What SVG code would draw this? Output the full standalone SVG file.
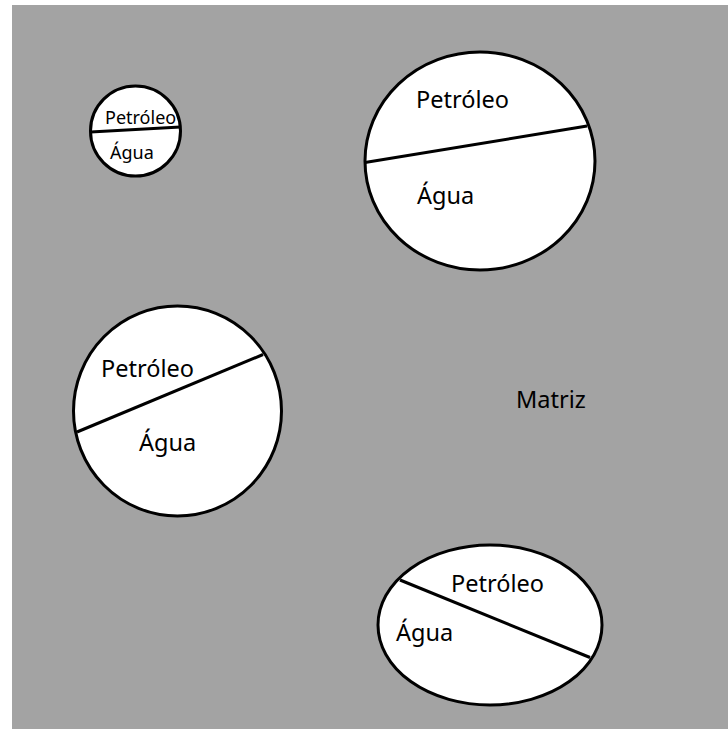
<svg xmlns="http://www.w3.org/2000/svg" width="728" height="729" viewBox="0 0 728 729">
  <style>
    .drop { fill: #ffffff; stroke: #000000; stroke-width: 3; }
    .iface { stroke: #000000; stroke-width: 3; fill: none; }
    .lbl { font-family: "Noto Sans", "Open Sans", sans-serif; font-size: 23.5px; fill: #000000; }
    .lbl-s { font-family: "Noto Sans", "Open Sans", sans-serif; font-size: 18px; fill: #000000; }
  </style>
  <rect width="728" height="729" fill="#ffffff"/>
  <!-- matrix background -->
  <rect id="matriz" x="12" y="5" width="716" height="724" fill="#a3a3a3"/>
  <text class="lbl" x="516" y="408">Matriz</text>

  <g id="gota-pequena">
    <circle class="drop" cx="135.5" cy="131" r="45"/>
    <line class="iface" x1="90.5" y1="132" x2="180.5" y2="127"/>
    <text class="lbl-s" x="105" y="123.5">Petróleo</text>
    <text class="lbl-s" x="110" y="158.5">Água</text>
  </g>

  <g id="gota-grande">
    <ellipse class="drop" cx="480" cy="161" rx="115" ry="109"/>
    <line class="iface" x1="365" y1="162.5" x2="587" y2="126"/>
    <text class="lbl" x="416" y="108">Petróleo</text>
    <text class="lbl" x="417" y="203.5">Água</text>
  </g>

  <g id="gota-media">
    <ellipse class="drop" cx="177.5" cy="411" rx="104" ry="105"/>
    <line class="iface" x1="77" y1="432" x2="263" y2="354.5"/>
    <text class="lbl" x="101" y="376.5">Petróleo</text>
    <text class="lbl" x="139" y="450.5">Água</text>
  </g>

  <g id="gota-eliptica">
    <ellipse class="drop" cx="490" cy="625" rx="112" ry="80"/>
    <line class="iface" x1="400" y1="580" x2="590" y2="657.5"/>
    <text class="lbl" x="451" y="591.5">Petróleo</text>
    <text class="lbl" x="396" y="641">Água</text>
  </g>
</svg>
